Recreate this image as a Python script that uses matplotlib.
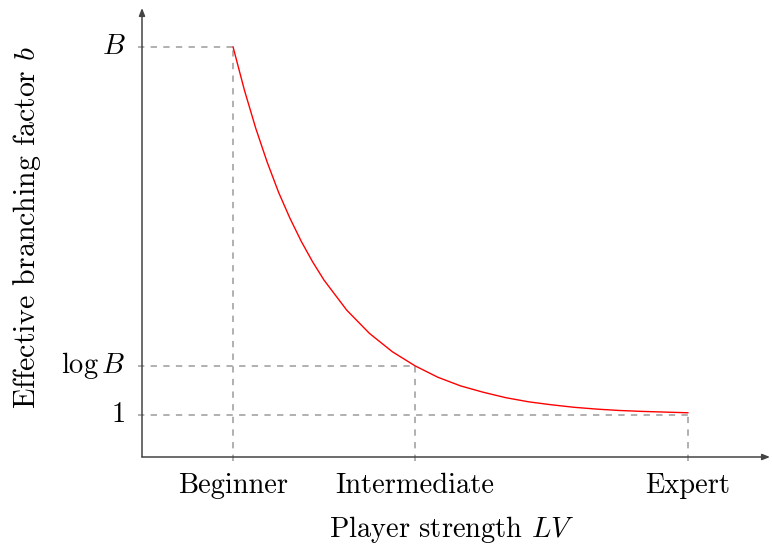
import matplotlib
matplotlib.use('Agg')
import matplotlib.pyplot as plt

plt.rcParams['font.family'] = 'serif'
plt.rcParams['font.serif'] = ['cmr10']
plt.rcParams['mathtext.fontset'] = 'cm'
plt.rcParams['axes.unicode_minus'] = False

# levels on the player-strength axis
levels = ['Beginner', 'Intermediate', 'Expert']
level_x = [2, 6, 12]

# branching-factor marks
y_labels = [r'$B$', r'$\log B$', r'$1$']
y_marks = [9.0, 2.0, 0.92]

# effective branching factor vs. strength
curve_x = [2.0, 2.25, 2.5, 2.75, 3.0, 3.25, 3.5, 3.75, 4.0, 4.5, 5.0, 5.5,
           6.0, 6.5, 7.0, 7.5, 8.0, 8.5, 9.0, 9.5, 10.0, 10.5, 11.0, 11.5, 12.0]
curve_y = [9.0, 8.05, 7.21, 6.47, 5.81, 5.24, 4.73, 4.28, 3.88, 3.22, 2.71, 2.31,
           2.00, 1.75, 1.56, 1.42, 1.30, 1.21, 1.145, 1.09, 1.05, 1.02, 1.00, 0.985, 0.97]

x_max, y_max = 13.8, 9.85

fig = plt.figure(figsize=(7.72, 5.45), dpi=100)
ax = fig.add_axes([142 / 772, 88 / 545, 628 / 772, 449 / 545])
ax.set_xlim(0, x_max)
ax.set_ylim(0, y_max)
ax.axis('off')

dash_kw = dict(color='#aaaaaa', lw=1.3, linestyle=(0, (3.5, 3.5)), clip_on=False, zorder=1)

# guide lines from each level to its branching factor
for lx, ym in zip(level_x, y_marks):
    ax.plot([-0.09, lx], [ym, ym], **dash_kw)
    ax.plot([lx, lx], [-0.09, ym], **dash_kw)

ax.plot(curve_x, curve_y, color='red', lw=1.0, zorder=3,
        solid_joinstyle='round', solid_capstyle='round')

# axes with arrow heads
arrow_kw = dict(arrowstyle='-|>,head_length=0.45,head_width=0.18', color='#444444', lw=1.1,
                shrinkA=0, shrinkB=0)
ax.annotate('', xy=(0, y_max), xytext=(0, 0), arrowprops=arrow_kw, annotation_clip=False)
ax.annotate('', xy=(x_max, 0), xytext=(0, 0), arrowprops=arrow_kw, annotation_clip=False)

fs = 20.5
for lab, ym in zip(y_labels, y_marks):
    ax.text(-0.37, ym, lab, ha='right', va='center', fontsize=fs)
for lab, lx in zip(levels, level_x):
    ax.text(lx, -0.79, lab, ha='center', va='baseline', fontsize=fs)

ax.text(6.81, -1.75, r'Player strength $LV$', ha='center', va='baseline', fontsize=fs)
ax.text(-2.53, 5.03, r'Effective branching factor $b$', ha='center', va='center',
        rotation=90, fontsize=21.5)

fig.savefig('out.png', dpi=100)
